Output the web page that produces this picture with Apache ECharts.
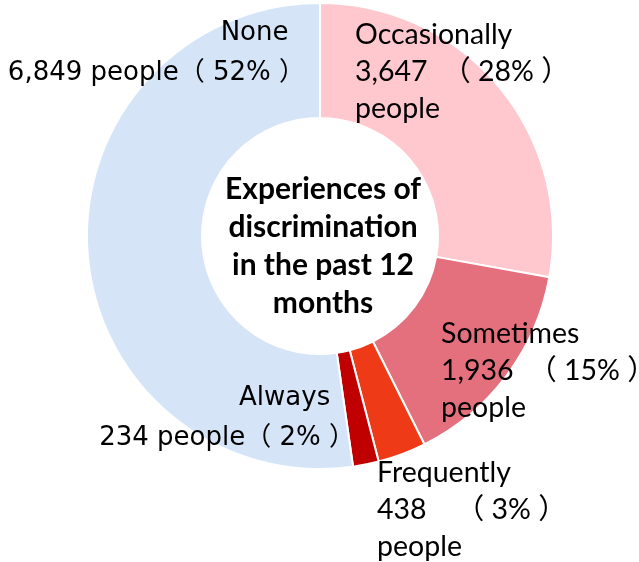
<!DOCTYPE html>
<html>
<head>
<meta charset="utf-8">
<script src="https://cdn.jsdelivr.net/npm/echarts@6/dist/echarts.min.js"></script>
<style>
html,body{margin:0;padding:0;background:#fff;}
#chart{width:639px;height:562px;}
</style>
</head>
<body>
<div id="chart"></div>
<script>
var categories = ['Occasionally', 'Sometimes', 'Frequently', 'Always', 'None'];
var counts = [3647, 1936, 438, 234, 6849];
var percentLabels = ['28%', '15%', '3%', '2%', '52%'];
var centerTitle = 'Experiences of\ndiscrimination\nin the past 12\nmonths';

var colors = ['#FFC7CE', '#E5707D', '#EF3A18', '#C00000', '#D6E4F8'];

function fmt(n){ return n.toLocaleString('en-US'); }

var labelTexts = [
  categories[0] + '\n' + fmt(counts[0]) + '  （ ' + percentLabels[0] + ' ）\npeople',
  categories[1] + '\n' + fmt(counts[1]) + '  （ ' + percentLabels[1] + ' ）\npeople',
  categories[2] + '\n' + fmt(counts[2]) + '    （ ' + percentLabels[2] + ' ）\npeople',
  categories[3] + '   \n' + fmt(counts[3]) + ' people（ ' + percentLabels[3] + ' ）',
  categories[4] + '  \n' + fmt(counts[4]) + ' people（ ' + percentLabels[4] + ' ）'
];

var labelLayouts = [
  {x: 355, y: 16, align: 'left', verticalAlign: 'top'},
  {x: 441, y: 315, align: 'left', verticalAlign: 'top'},
  {x: 377, y: 454, align: 'left', verticalAlign: 'top'},
  {x: 355, y: 378, align: 'right', verticalAlign: 'top'},
  {x: 305, y: 13, align: 'right', verticalAlign: 'top'}
];

var calibriLike = {fontFamily: 'Lato, "Noto Sans CJK SC"', fontSize: 28.5, lineHeight: 37, color: '#000'};
var verdanaLike = {fontFamily: '"DejaVu Sans", "Noto Sans CJK SC"', fontSize: 26, lineHeight: 40, color: '#000'};

var data = categories.map(function(c, i){
  var st = (i >= 3) ? verdanaLike : calibriLike;
  return {
    name: c,
    value: counts[i],
    itemStyle: {color: colors[i]},
    label: Object.assign({formatter: labelTexts[i]}, st)
  };
});

var chart = echarts.init(document.getElementById('chart'), null, {renderer: 'canvas'});
chart.setOption({
  animation: false,
  series: [{
    type: 'pie',
    center: [320, 236],
    radius: [118, 233],
    startAngle: 90,
    clockwise: true,
    avoidLabelOverlap: false,
    itemStyle: {borderColor: '#fff', borderWidth: 2},
    label: {show: true, position: 'outside'},
    labelLine: {show: false},
    labelLayout: function(p){ return labelLayouts[p.dataIndex]; },
    emphasis: {disabled: true},
    data: data
  }],
  graphic: [{
    type: 'text',
    style: {
      text: centerTitle,
      x: 323, y: 246,
      align: 'center',
      verticalAlign: 'middle',
      fontFamily: 'Lato',
      fontWeight: 'bold',
      fontSize: 30,
      lineHeight: 38,
      fill: '#000'
    }
  }]
});
</script>
</body>
</html>
